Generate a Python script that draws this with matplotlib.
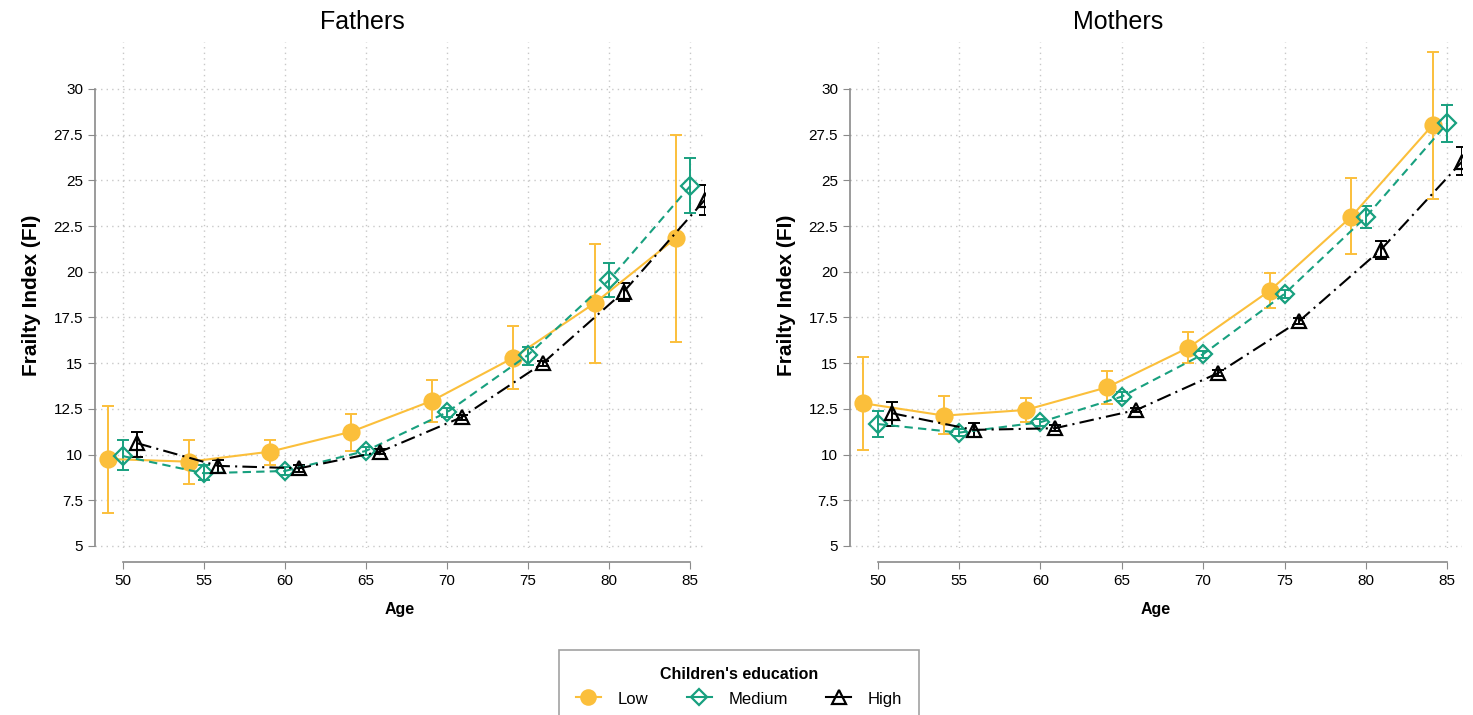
import numpy as np
import matplotlib
matplotlib.use("Agg")
import matplotlib.pyplot as plt
from matplotlib.lines import Line2D

# age groups and group labels
ages = np.array([50, 55, 60, 65, 70, 75, 80, 85])
age_ticks = [50, 55, 60, 65, 70, 75, 80, 85]
y_ticks = [5, 7.5, 10, 12.5, 15, 17.5, 20, 22.5, 25, 27.5, 30]
y_labels = ["5", "7.5", "10", "12.5", "15", "17.5", "20", "22.5", "25", "27.5", "30"]
groups = ["Low", "Medium", "High"]

# Fathers: estimate, lower CI, upper CI
f_low = [9.76, 9.61, 10.16, 11.25, 12.95, 15.30, 18.28, 21.83]
f_low_lo = [6.82, 8.41, 9.43, 10.21, 11.80, 13.57, 15.00, 16.18]
f_low_hi = [12.67, 10.80, 10.80, 12.22, 14.08, 17.03, 21.50, 27.48]
f_med = [9.92, 8.98, 9.10, 10.20, 12.31, 15.45, 19.55, 24.69]
f_med_lo = [9.16, 8.61, 8.90, 10.00, 12.06, 14.90, 18.64, 23.23]
f_med_hi = [10.78, 9.43, 9.30, 10.40, 12.56, 15.90, 20.46, 26.20]
f_high = [10.62, 9.38, 9.25, 10.16, 12.04, 14.99, 18.91, 23.93]
f_high_lo = [9.85, 9.00, 9.05, 10.01, 11.89, 14.84, 18.40, 23.10]
f_high_hi = [11.25, 9.70, 9.45, 10.31, 12.19, 15.14, 19.40, 24.75]

# Mothers
m_low = [12.81, 12.13, 12.44, 13.68, 15.85, 18.97, 23.01, 28.03]
m_low_lo = [10.25, 11.10, 11.80, 12.75, 14.99, 18.04, 20.97, 23.98]
m_low_hi = [15.36, 13.20, 13.11, 14.59, 16.69, 19.92, 25.11, 32.04]
m_med = [11.67, 11.20, 11.77, 13.17, 15.49, 18.79, 23.00, 28.12]
m_med_lo = [10.98, 11.00, 11.57, 12.92, 15.29, 18.59, 22.38, 27.12]
m_med_hi = [12.40, 11.40, 11.97, 13.42, 15.69, 18.99, 23.60, 29.12]
m_high = [12.26, 11.35, 11.44, 12.44, 14.45, 17.30, 21.19, 26.02]
m_high_lo = [11.58, 10.95, 11.29, 12.32, 14.30, 17.15, 20.70, 25.30]
m_high_hi = [12.89, 11.71, 11.59, 12.56, 14.60, 17.45, 21.70, 26.84]

plt.rcParams['font.family'] = ['Liberation Sans', 'DejaVu Sans']

fig = plt.figure(figsize=(14.73, 7.15), dpi=100)
ax1 = fig.add_axes([0.0645, 0.2336, 0.414, 0.7077])
ax2 = fig.add_axes([0.577, 0.2336, 0.4155, 0.7077])

orange = "#FBBF3B"
teal = "#18A07F"
styles = [
    dict(color=orange, marker="o", ms=11.5, mfc=orange, mec=orange, ls="-", off=-0.9),
    dict(color=teal, marker="D", ms=9.5, mfc="none", mec=teal, ls=(0, (4, 2.5)), off=0.0),
    dict(color="black", marker="^", ms=10.5, mfc="none", mec="black", ls=(0, (7, 2.5, 1, 2.5)), off=0.9),
]

panels = [
    (ax1, "Fathers", 362, [(f_low, f_low_lo, f_low_hi), (f_med, f_med_lo, f_med_hi), (f_high, f_high_lo, f_high_hi)]),
    (ax2, "Mothers", 1118, [(m_low, m_low_lo, m_low_hi), (m_med, m_med_lo, m_med_hi), (m_high, m_high_lo, m_high_hi)]),
]

for ax, title, tx, series in panels:
    for (v, lo, hi), st in zip(series, styles):
        v = np.array(v); lo = np.array(lo); hi = np.array(hi)
        x = ages + st["off"]
        ax.errorbar(x, v, yerr=[v - lo, hi - v], fmt="none", ecolor=st["color"],
                    elinewidth=1.4, capsize=4, capthick=1.4, zorder=2)
        ax.plot(x, v, color=st["color"], ls=st["ls"], lw=1.5, marker=st["marker"],
                ms=st["ms"], mfc=st["mfc"], mec=st["mec"], mew=1.6, zorder=3)
    ax.set_xlim(48.3, 85.9)
    ax.set_ylim(4.89, 32.57)
    ax.set_xticks(age_ticks)
    ax.set_yticks(y_ticks)
    ax.set_yticklabels(y_labels)
    ax.grid(True, color="#c8c8c8", ls=(0, (1, 3)), lw=1.0)
    ax.set_axisbelow(True)
    for s in ["top", "right"]:
        ax.spines[s].set_visible(False)
    ax.spines["left"].set_bounds(5, 30)
    ax.spines["bottom"].set_bounds(50, 85)
    ax.spines["bottom"].set_position(("outward", 10))
    for s in ["left", "bottom"]:
        ax.spines[s].set_color("#8a8a8a")
        ax.spines[s].set_linewidth(1.2)
    ax.tick_params(axis="both", colors="#8a8a8a", labelcolor="black", labelsize=11, length=5)
    # title is centred over the whole panel, labels included
    fig.text(tx / 1473, 1 - 22 / 715, title, fontsize=18, ha="center", va="center")
    ax.set_xlabel("Age", fontsize=11.5, fontweight="bold", labelpad=10)
    ax.set_ylabel("Frailty Index (FI)", fontsize=15, fontweight="bold", labelpad=9)

handles = [Line2D([0], [0], color=st["color"], ls="-", lw=1.5, marker=st["marker"], ms=st["ms"] * 0.9,
                  mfc=st["mfc"], mec=st["mec"], mew=1.6) for st in styles]
leg = fig.legend(handles, groups, loc="upper center", bbox_to_anchor=(0.5017, 0.0909), ncol=3,
                 title="Children's education", title_fontproperties={"weight": "bold", "size": 11.5},
                 fontsize=12, frameon=True, fancybox=False, edgecolor="#8a8a8a",
                 handlelength=1.5, columnspacing=2.3, borderpad=1.0, handletextpad=1.0,
                 handleheight=1.2, borderaxespad=0)
leg.get_frame().set_linewidth(1.2)

fig.savefig("out.png", dpi=100)
